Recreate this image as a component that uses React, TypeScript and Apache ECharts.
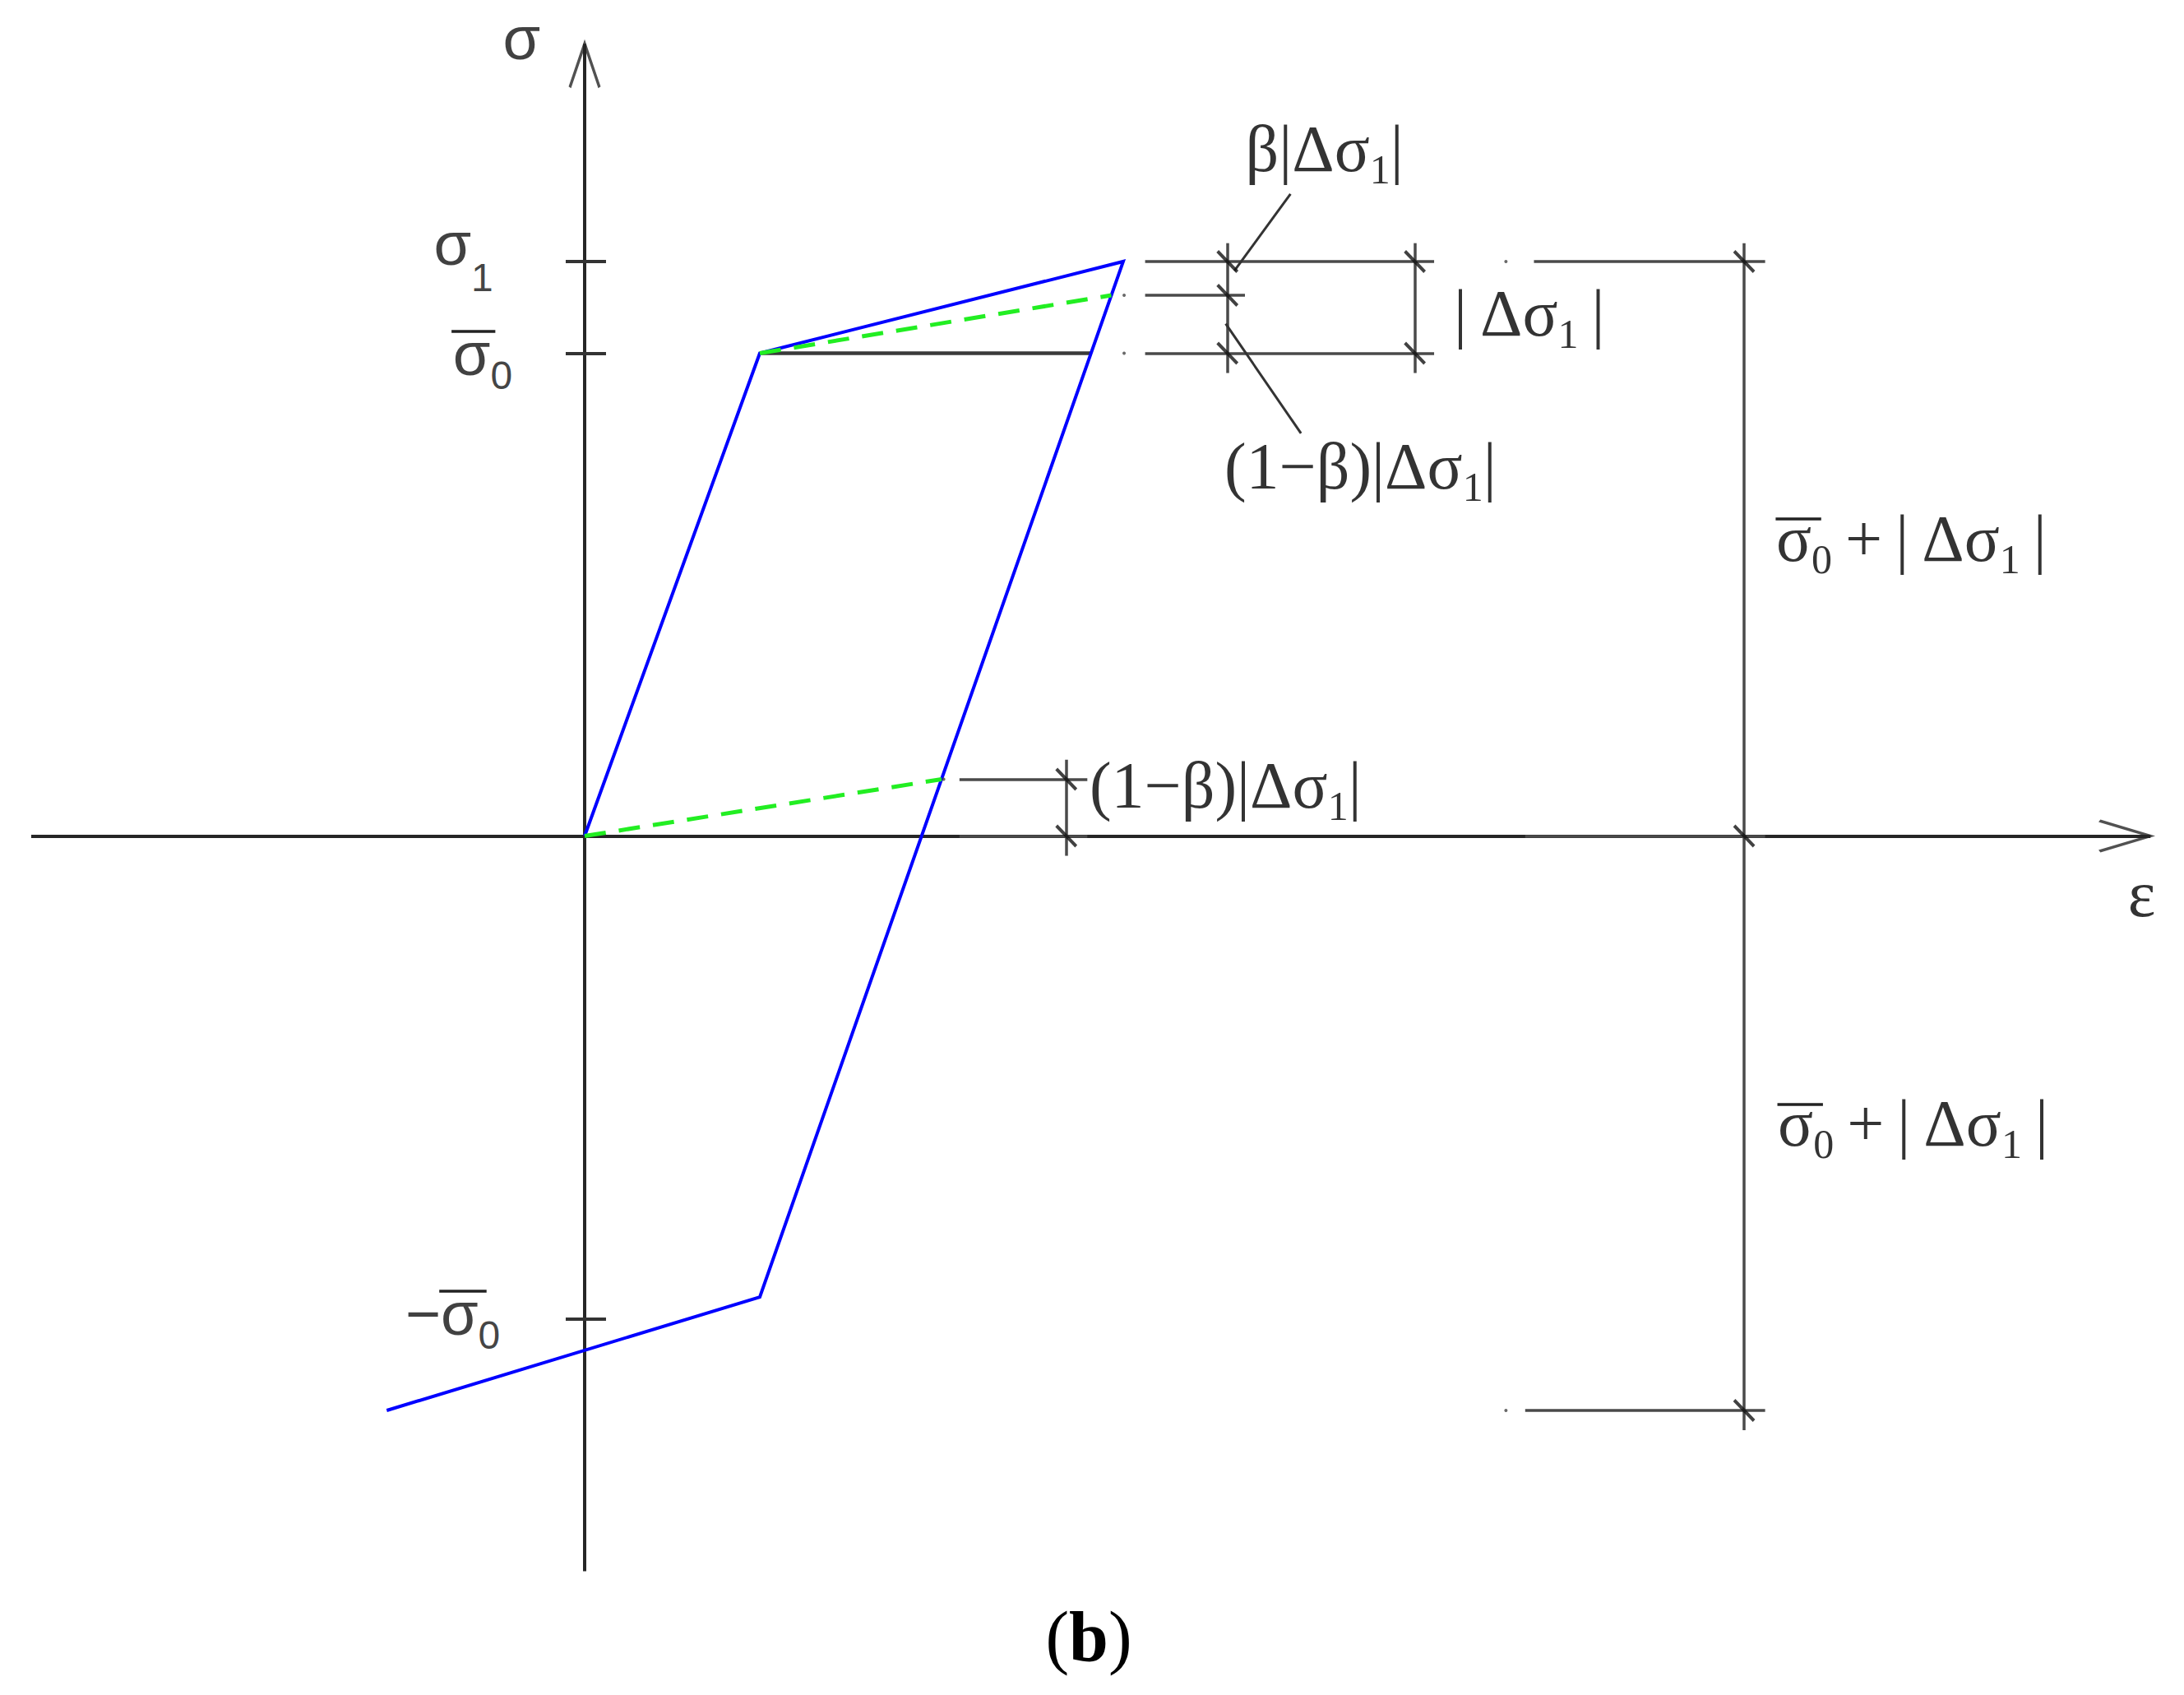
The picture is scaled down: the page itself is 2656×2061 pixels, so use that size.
import React, { useEffect, useRef } from 'react';
import * as echarts from 'echarts';

// ---------- values (ε, σ in arbitrary figure units) ----------
const loopEps = [0, 10, 30.75, 10, -11.3];
const loopSig = [0, 100, 119, -95.5, -119];

const greenUpperEps = [10, 30.07];
const greenUpperSig = [100, 112];
const greenLowerEps = [0, 20.38];
const greenLowerSig = [0, 11.75];

const yieldLineEps = [10, 28.91];
const yieldLineSig = [100, 100];

const xAxisSpan = [-31.6, 89.4];
const yAxisSpan = [-152.3, 164.1];

const yTickValues = [119, 100, -100];
const yTickLabels = ['{A|σ}{s1|1}', '{a|σ}{s|0}', '{a|−σ}{s|0}'];
const yTickLabelEps = [-5.2, -4.1, -4.8];
const yTickLabelSig = [122.6, 99.8, -99.0];

// bars drawn over σ in the σ̄0 labels
const overbarLines = [
  [[-7.6, 104.5], [-5.1, 104.5]],
  [[-8.3, -94.3], [-5.6, -94.3]],
  [[68.0, 65.8], [70.6, 65.8]],
  [[68.1, -55.6], [70.7, -55.6]],
];

const extensionLines = [
  [[32.0, 119], [48.5, 119]],
  [[32.0, 112], [37.7, 112]],
  [[32.0, 100], [48.5, 100]],
  [[54.2, 119], [67.4, 119]],
  [[53.7, 0], [67.4, 0]],
  [[53.7, -119], [67.4, -119]],
  [[21.4, 11.75], [28.7, 11.75]],
  [[21.4, 0], [28.7, 0]],
];
const dimensionLines = [
  [[36.7, 122.8], [36.7, 95.9]],
  [[47.4, 122.8], [47.4, 95.9]],
  [[66.2, 122.8], [66.2, -123.1]],
  [[27.5, 15.8], [27.5, -4.1]],
];
const leaderLines = [
  [[37.1, 117.1], [40.3, 133]],
  [[36.6, 106.1], [40.9, 83.4]],
];
const slashPoints = [
  [36.7, 119], [36.7, 112], [36.7, 100],
  [47.4, 119], [47.4, 100],
  [66.2, 119], [66.2, 0], [66.2, -119],
  [27.5, 11.75], [27.5, 0],
];
const dotPoints = [[30.8, 112], [30.8, 100], [52.6, 119], [52.6, -119], [20.5, 11.75]];

const annotationTexts = [
  '{m|β|Δσ}{s|1}{m||}',
  '{m||\u2009Δσ}{s|1}{m|\u2009|}',
  '{m|(1−β)|Δσ}{s|1}{m||}',
  '{m|(1−β)|Δσ}{s|1}{m||}',
  '{m|σ}{s|0}{m|\u2009+\u2009|\u2009Δσ}{s|1}{m|\u2009|}',
  '{m|σ}{s|0}{m|\u2009+\u2009|\u2009Δσ}{s|1}{m|\u2009|}',
];
const annotationEps = [37.7, 49.6, 36.5, 28.8, 68.0, 68.1];
const annotationSig = [142.3, 108.3, 76.5, 10.4, 61.5, -59.6];

const axisLetters = ['{g|σ}', '{e|ε}'];
const axisLetterEps = [-3.6, 88.9];
const axisLetterSig = [165.3, -12.0];

const captionText = '{p|(}{b|b}{p|)}';

const SERIF = "'Liberation Serif', 'Times New Roman', 'DejaVu Serif', serif";
const SANS = "'Liberation Sans', Arial, 'DejaVu Sans', sans-serif";

export default function App() {
  const ref = useRef<HTMLDivElement>(null);

  useEffect(() => {
    document.body.style.margin = '0';
    document.body.style.overflow = 'hidden';
    const chart = echarts.init(ref.current!, null, { renderer: 'svg' });

    const seg = (arr: number[][][]) => arr.map((c) => ({ coords: c }));
    const pairs = (xs: number[], ys: number[]) => xs.map((x, i) => [x, ys[i]]);

    const INK = '#000';
    const rich: any = {
      m: { fontFamily: SERIF, fontSize: 80, lineHeight: 100, color: INK, verticalAlign: 'middle' },
      s: { fontFamily: SERIF, fontSize: 50, lineHeight: 56, color: INK, verticalAlign: 'bottom' },
      a: { fontFamily: SANS, fontSize: 74, lineHeight: 100, color: '#111', verticalAlign: 'middle' },
      A: { fontFamily: SANS, fontSize: 74, lineHeight: 130, color: '#111', verticalAlign: 'middle' },
      s1: { fontFamily: SANS, fontSize: 48, lineHeight: 56, color: '#111', verticalAlign: 'bottom' },
      g: { fontFamily: SANS, fontSize: 74, lineHeight: 100, color: '#111', verticalAlign: 'middle' },
      e: { fontFamily: SERIF, fontSize: 80, lineHeight: 100, color: INK, verticalAlign: 'middle' },
    };
    const sansSub = { fontFamily: SANS, fontSize: 48, lineHeight: 56, color: '#111', verticalAlign: 'bottom' };
    const yLabelRich = { ...rich, s: sansSub };

    const labelItem = (x: number, y: number, text: string, position: string, richSet: any) => ({
      value: [x, y],
      label: { show: true, position, distance: 0, formatter: text, rich: richSet },
    });

    const option: any = {
      animation: false,
      backgroundColor: '#ffffff',
      grid: { left: 29.4, top: 18.6, width: 2598.6, height: 1937.1 },
      xAxis: { type: 'value', min: -32, max: 90, show: false },
      yAxis: { type: 'value', min: -160, max: 170, show: false },
      series: [
        {
          type: 'lines', coordinateSystem: 'cartesian2d', silent: true, z: 2,
          data: seg([
            [[xAxisSpan[0], 0], [xAxisSpan[1], 0]],
            [[0, yAxisSpan[0]], [0, yAxisSpan[1]]],
          ]),
          lineStyle: { color: '#262626', width: 4, opacity: 1, curveness: 0 },
        },
        {
          type: 'lines', coordinateSystem: 'cartesian2d', silent: true, z: 2,
          data: seg(yTickValues.map((v) => [[-1.08, v], [1.22, v]])),
          lineStyle: { color: '#333', width: 4, opacity: 1, curveness: 0 },
        },
        {
          type: 'lines', coordinateSystem: 'cartesian2d', silent: true, z: 8,
          data: seg(overbarLines),
          lineStyle: { color: '#222', width: 3.5, opacity: 1, curveness: 0 },
        },
        {
          type: 'lines', coordinateSystem: 'cartesian2d', silent: true, z: 3,
          data: seg(extensionLines),
          lineStyle: { color: '#4a4a4a', width: 3.5, opacity: 1, curveness: 0 },
        },
        {
          type: 'lines', coordinateSystem: 'cartesian2d', silent: true, z: 3,
          data: seg(dimensionLines),
          lineStyle: { color: '#4a4a4a', width: 3.5, opacity: 1, curveness: 0 },
        },
        {
          type: 'lines', coordinateSystem: 'cartesian2d', silent: true, z: 3,
          data: seg(leaderLines),
          lineStyle: { color: '#333', width: 3, opacity: 1, curveness: 0 },
        },
        {
          type: 'line', silent: true, z: 4, symbol: 'none',
          data: pairs(yieldLineEps, yieldLineSig),
          lineStyle: { color: '#3a3a3a', width: 4.5 },
        },
        {
          type: 'line', silent: true, z: 5, symbol: 'none',
          data: pairs(loopEps, loopSig),
          lineStyle: { color: '#0000ff', width: 4, join: 'miter' },
        },
        {
          type: 'line', silent: true, z: 6, symbol: 'none',
          data: pairs(greenUpperEps, greenUpperSig),
          lineStyle: { color: '#22ee22', width: 5, type: [26, 16] },
        },
        {
          type: 'line', silent: true, z: 6, symbol: 'none',
          data: pairs(greenLowerEps, greenLowerSig),
          lineStyle: { color: '#22ee22', width: 5, type: [26, 16] },
        },
        {
          type: 'scatter', silent: true, z: 7,
          symbol: 'path://M0,0L24,25', symbolSize: [24, 25],
          itemStyle: { color: 'rgba(0,0,0,0)', borderColor: '#111', borderWidth: 4 },
          data: slashPoints,
        },
        {
          type: 'scatter', silent: true, z: 7,
          itemStyle: { color: 'rgba(0,0,0,0)', borderColor: '#262626', borderWidth: 4 },
          data: [
            { value: [xAxisSpan[1], 0], symbol: 'path://M0,0L62,18.5L0,37', symbolSize: [62, 37], symbolOffset: [-31, 0] },
            { value: [0, yAxisSpan[1]], symbol: 'path://M0,53L18,0L36,53', symbolSize: [36, 53], symbolOffset: [0, 26.5] },
          ],
        },
        {
          type: 'scatter', silent: true, z: 7, symbolSize: 4,
          itemStyle: { color: '#444' },
          data: dotPoints,
        },
        {
          type: 'scatter', silent: true, z: 8, symbolSize: 1,
          itemStyle: { color: 'rgba(0,0,0,0)' },
          data: [
            ...yTickLabels.map((t, i) => labelItem(yTickLabelEps[i], yTickLabelSig[i], t, 'left', yLabelRich)),
            ...annotationTexts.map((t, i) => labelItem(annotationEps[i], annotationSig[i], t, 'right', rich)),
            ...axisLetters.map((t, i) => labelItem(axisLetterEps[i], axisLetterSig[i], t, 'inside', rich)),
          ],
        },
      ],
      graphic: [
        {
          type: 'text', x: 1324, y: 1990, silent: true,
          style: {
            text: captionText,
            rich: {
              p: { fontFamily: SERIF, fontSize: 86, fill: '#000', color: '#000' },
              b: { fontFamily: SERIF, fontSize: 86, fontWeight: 'bold', fill: '#000', color: '#000' },
            },
            align: 'center', verticalAlign: 'middle',
            textAlign: 'center', textVerticalAlign: 'middle',
          },
        },
      ],
    };

    chart.setOption(option);
    return () => chart.dispose();
  }, []);

  return <div ref={ref} style={{ width: '2656px', height: '2061px' }} />;
}
